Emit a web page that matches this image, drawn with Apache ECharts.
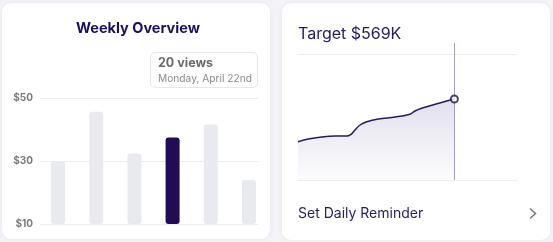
<!DOCTYPE html>
<html><head><meta charset="utf-8">
<script src="https://cdn.jsdelivr.net/npm/echarts@6/dist/echarts.min.js"></script>
<style>html,body{margin:0;padding:0;background:#f3f3f8;}#c{width:553px;height:242px;}</style>
</head><body><div id="c"></div>
<script>
// Left: weekly bars
const barCategories = ['Mon','Tue','Wed','Thu','Fri','Sat'];
const barValues = [30, 45.6, 32.4, 37.5, 41.6, 24];
const highlightIndex = 3;
const barTicks = [10, 30, 50];
// Right: target line
const lineX = [0, 4.7, 10.8, 16.9, 22.2, 24.2, 26, 28.3, 31.4, 36.7, 44.3, 51.1, 53.4, 56.5, 62.6, 71.4];
const lineY = [38.3, 41, 43, 44, 44, 45.7, 50, 55, 58.3, 61, 63, 65.7, 69, 71.7, 75.7, 81];
const lineTopGuide = 126;

const FONT = 'Inter, "Noto Sans", sans-serif';
const chart = echarts.init(document.getElementById('c'), null, {renderer:'canvas'});
const lastIdx = lineX.length - 1;

chart.setOption({
  animation:false,
  backgroundColor:'#f3f3f8',
  textStyle:{fontFamily:FONT},
  graphic:[
    {type:'rect', z:-10, shape:{x:2,y:3,width:268,height:236,r:9}, style:{fill:'#ffffff', shadowBlur:6, shadowColor:'rgba(40,30,90,0.06)'}},
    {type:'rect', z:-10, shape:{x:282,y:3,width:268,height:237,r:9}, style:{fill:'#ffffff', shadowBlur:6, shadowColor:'rgba(40,30,90,0.06)'}},
    {type:'text', style:{x:138, y:29, text:'Weekly Overview', align:'center', verticalAlign:'middle', font:'bold 14.5px '+FONT, fill:'#1f0f5c'}},
    {type:'rect', shape:{x:150.5,y:52.5,width:107,height:35,r:5}, style:{fill:'#ffffff', stroke:'#e6e6ec', lineWidth:1}},
    {type:'text', style:{x:158, y:63.5, text:'20 views', verticalAlign:'middle', font:'bold 12.5px '+FONT, fill:'#6b6b6b'}},
    {type:'text', style:{x:158, y:78.5, text:'Monday, April 22nd', verticalAlign:'middle', font:'10.2px '+FONT, fill:'#8a8a8a'}},
    {type:'text', style:{x:298, y:34, text:'Target $569K', verticalAlign:'middle', font:'16px '+FONT, fill:'#2a1a5e'}},
    {type:'text', style:{x:298, y:214, text:'Set Daily Reminder', verticalAlign:'middle', font:'14px '+FONT, fill:'#2a1a5e'}},
    {type:'polyline', shape:{points:[[530,208.5],[535.5,213.5],[530,218.5]]}, style:{stroke:'#777777', lineWidth:1.5, fill:null}}
  ],
  grid:[
    {left:40, right:295, top:98, bottom:18},
    {left:39, width:229, top:98, bottom:18},
    {left:298, right:36, top:43, bottom:62}
  ],
  xAxis:[
    {gridIndex:0, type:'value', show:false, min:0, max:1},
    {gridIndex:1, type:'category', data:barCategories, show:false},
    {gridIndex:2, type:'value', min:0, max:100, axisLine:{show:true, lineStyle:{color:'#ececf1', width:1}}, axisTick:{show:false}, axisLabel:{show:false}, splitLine:{show:false}}
  ],
  yAxis:[
    {gridIndex:0, type:'value', min:barTicks[0], max:barTicks[barTicks.length-1], interval:barTicks[1]-barTicks[0],
     axisLine:{show:false}, axisTick:{show:false},
     axisLabel:{formatter:v=>'$'+v, color:'#7a7a7a', fontWeight:'bold', fontSize:10, margin:7, fontFamily:FONT},
     splitLine:{lineStyle:{color:'#ececf0', width:1}}},
    {gridIndex:1, type:'value', min:barTicks[0], max:barTicks[barTicks.length-1], show:false},
    {gridIndex:2, type:'value', min:0, max:137, show:false}
  ],
  series:[
    {type:'bar', xAxisIndex:1, yAxisIndex:1, barWidth:14,
     data:barValues.map((v,i)=>({value:v, itemStyle:{color: i===highlightIndex ? '#200d55' : '#e8eaef', borderRadius:3}}))},
    {type:'line', xAxisIndex:2, yAxisIndex:2, data:lineX.map((x,i)=>[x, lineY[i]]), smooth:0.35, symbol:'none',
     lineStyle:{color:'#2a1a5e', width:1.5},
     areaStyle:{color:new echarts.graphic.LinearGradient(0,0,0,1,[{offset:0,color:'#d6d2e6'},{offset:1,color:'#fbfbfd'}])},
     markLine:{silent:true, symbol:'none', label:{show:false},
       data:[
         {yAxis:lineTopGuide, lineStyle:{color:'#ececf1', width:1, type:'solid'}},
         {xAxis:lineX[lastIdx], lineStyle:{color:'#a59ccc', width:1, type:'solid'}}
       ]}},
    {type:'scatter', xAxisIndex:2, yAxisIndex:2, z:5, data:[[lineX[lastIdx], lineY[lastIdx]]], symbol:'circle', symbolSize:7,
     itemStyle:{color:'#ffffff', borderColor:'#1f0f5c', borderWidth:2}}
  ]
});
</script></body></html>
